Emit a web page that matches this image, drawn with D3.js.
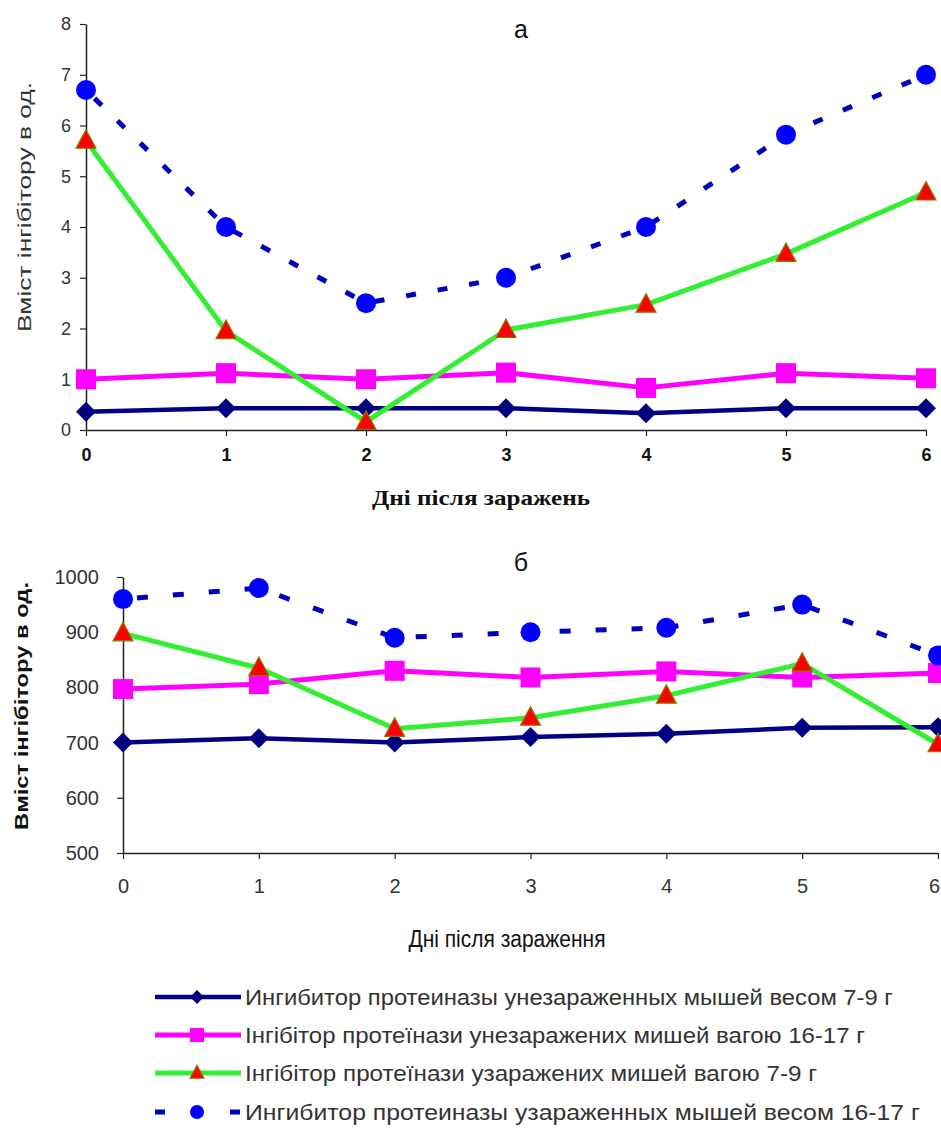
<!DOCTYPE html>
<html>
<head>
<meta charset="utf-8">
<script src="https://cdn.jsdelivr.net/npm/d3@7"></script>
<style>
  body { margin: 0; background: #fff; }
  svg { display: block; }
</style>
</head>
<body>
<div id="chart"></div>
<script>
// days after infection
const days = [0, 1, 2, 3, 4, 5, 6];

// chart "а"
const aUninf79 = [0.36, 0.43, 0.43, 0.43, 0.33, 0.43, 0.43];
const aUninf1617 = [1.0, 1.12, 1.0, 1.13, 0.83, 1.12, 1.02];
const aInf79 = [5.7, 1.95, 0.16, 1.97, 2.47, 3.47, 4.68];
const aInf1617 = [6.7, 4.0, 2.5, 3.0, 4.0, 5.82, 7.0];
const aTicksY = [0, 1, 2, 3, 4, 5, 6, 7, 8];

// chart "б"
const bUninf79 = [700, 708, 700, 710, 716, 727, 728];
const bUninf1617 = [797, 806, 830, 818, 829, 818, 826];
const bInf79 = [898, 835, 725, 745, 785, 843, 697];
const bInf1617 = [960, 980, 890, 900, 908, 950, 858];
const bTicksY = [500, 600, 700, 800, 900, 1000];

const legendLabels = [
  "Ингибитор протеиназы унезараженных мышей весом  7-9 г",
  "Інгібітор протеїнази унезаражених мишей вагою 16-17 г",
  "Інгібітор протеїнази узаражених мишей вагою 7-9 г",
  "Ингибитор протеиназы узараженных мышей весом  16-17 г"
];

const styles = [
  { color: "#000080", width: 4.5, marker: "diamond" },
  { color: "#ff00ff", width: 5, marker: "square" },
  { color: "#33ee33", width: 5, marker: "triangle" },
  { color: "#0000bb", width: 5, marker: "circle", dashed: true }
];

const SANS = "'Liberation Sans', Arial, sans-serif";
const SERIF = "'Liberation Serif', 'Times New Roman', serif";

const width = 941, height = 1131;
const svg = d3.select("#chart").append("svg")
  .attr("width", width)
  .attr("height", height)
  .style("font-family", SANS);

function drawMarker(g, type, x, y, s) {
  if (type === "diamond") {
    g.append("path")
      .attr("d", `M${x},${y - s}L${x + s},${y}L${x},${y + s}L${x - s},${y}Z`)
      .attr("fill", "#000080");
  } else if (type === "square") {
    g.append("rect")
      .attr("x", x - s).attr("y", y - s)
      .attr("width", 2 * s).attr("height", 2 * s)
      .attr("fill", "#ff00ff");
  } else if (type === "triangle") {
    g.append("path")
      .attr("d", `M${x},${y - s * 1.1}L${x + s},${y + s * 0.75}L${x - s},${y + s * 0.75}Z`)
      .attr("fill", "#ff0000")
      .attr("stroke", "#8a7a00")
      .attr("stroke-width", 1.2);
  } else {
    g.append("circle")
      .attr("cx", x).attr("cy", y).attr("r", s)
      .attr("fill", "#0000ff");
  }
}

function drawPanel(opt) {
  const x = d3.scaleLinear().domain([0, 6]).range(opt.xRange);
  const y = d3.scaleLinear().domain(opt.yDomain).range(opt.yRange);
  const g = svg.append("g");

  // axes
  const xAxis = g.append("g")
    .attr("transform", `translate(0,${opt.yRange[0]})`)
    .call(d3.axisBottom(x).tickValues(days).tickFormat(d3.format("d"))
      .tickSize(6).tickSizeOuter(0).tickPadding(opt.xPad));
  xAxis.select(".domain").attr("stroke", "#222").attr("stroke-width", 1.5);
  xAxis.selectAll(".tick line").attr("stroke", "#222").attr("stroke-width", 1.2);
  xAxis.selectAll(".tick text")
    .style("font-family", SANS)
    .style("font-size", opt.xFont + "px")
    .style("font-weight", opt.xBold ? "bold" : "normal")
    .attr("fill", opt.xBold ? "#111" : "#333")
    .attr("dx", d => d === 6 ? opt.lastDx : 0);

  const yAxis = g.append("g")
    .attr("transform", `translate(${opt.xRange[0]},0)`)
    .call(d3.axisLeft(y).tickValues(opt.ticksY).tickFormat(d3.format("d"))
      .tickSize(6).tickSizeOuter(0).tickPadding(opt.yPad));
  yAxis.select(".domain").attr("stroke", "#222").attr("stroke-width", 1.5);
  yAxis.selectAll(".tick line").attr("stroke", "#222").attr("stroke-width", 1.2);
  yAxis.selectAll(".tick text")
    .style("font-family", SANS)
    .style("font-size", opt.yFont + "px")
    .attr("fill", "#333");

  // series
  opt.series.forEach((vals, i) => {
    const st = styles[i];
    const line = d3.line().x((d, j) => x(days[j])).y(d => y(d));
    const p = g.append("path")
      .datum(vals)
      .attr("d", line)
      .attr("fill", "none")
      .attr("stroke", st.color)
      .attr("stroke-width", st.width)
      .attr("stroke-linejoin", "round");
    if (st.dashed) p.attr("stroke-dasharray", opt.dash).attr("stroke-dashoffset", opt.dashOffset);
  });
  opt.series.forEach((vals, i) => {
    const st = styles[i];
    vals.forEach((v, j) => drawMarker(g, st.marker, x(days[j]), y(v), 10));
  });

  // titles
  g.append("text")
    .attr("x", opt.titleX).attr("y", opt.titleY)
    .attr("text-anchor", "middle")
    .style("font-size", "25px")
    .attr("fill", "#111")
    .text(opt.title);

  g.append("text")
    .attr("transform", `translate(${opt.yLabelX},${opt.yLabelY}) rotate(-90)`)
    .attr("text-anchor", "middle")
    .style("font-size", opt.yLabelFont + "px")
    .style("font-weight", opt.yLabelBold ? "bold" : "normal")
    .attr("fill", opt.yLabelBold ? "#111" : "#333")
    .attr("textLength", opt.yLabelLen)
    .attr("lengthAdjust", "spacingAndGlyphs")
    .text("Вміст інгібітору в од.");

  g.append("text")
    .attr("x", opt.xLabelX).attr("y", opt.xLabelY)
    .attr("text-anchor", "middle")
    .style("font-size", opt.xLabelFont + "px")
    .style("font-weight", opt.xLabelBold ? "bold" : "normal")
    .style("font-family", opt.xLabelFamily)
    .attr("fill", "#111")
    .attr("textLength", opt.xLabelLen)
    .attr("lengthAdjust", "spacingAndGlyphs")
    .text(opt.xLabel);
}

drawPanel({
  xRange: [86, 926], yRange: [430, 24], yDomain: [0, 8], ticksY: aTicksY,
  series: [aUninf79, aUninf1617, aInf79, aInf1617],
  xFont: 18, xBold: true, xPad: 12, yFont: 18, yPad: 9, lastDx: 0,
  dash: "10 22", dashOffset: -12,
  title: "а", titleX: 521, titleY: 38,
  yLabelX: 31, yLabelY: 207, yLabelFont: 18, yLabelBold: false, yLabelLen: 250,
  xLabel: "Дні після заражень", xLabelX: 481, xLabelY: 505, xLabelFont: 21,
  xLabelBold: true, xLabelFamily: SERIF, xLabelLen: 218
});

drawPanel({
  xRange: [123, 938], yRange: [853, 577], yDomain: [500, 1000], ticksY: bTicksY,
  series: [bUninf79, bUninf1617, bInf79, bInf1617],
  xFont: 20, xBold: false, xPad: 20, yFont: 20, yPad: 18, lastDx: -4,
  dash: "11 25", dashOffset: -14,
  title: "б", titleX: 521, titleY: 571,
  yLabelX: 28, yLabelY: 706, yLabelFont: 18, yLabelBold: true, yLabelLen: 248,
  xLabel: "Дні після зараження", xLabelX: 507, xLabelY: 947, xLabelFont: 23,
  xLabelBold: false, xLabelFamily: SANS, xLabelLen: 197
});

// legend
const legendRows = [997, 1035, 1073, 1112];
const legendLens = [648, 620, 572, 675];
const legend = svg.append("g");
legendLabels.forEach((label, i) => {
  const st = styles[i];
  const yy = legendRows[i];
  const l = legend.append("line")
    .attr("x1", 155).attr("x2", 241)
    .attr("y1", yy).attr("y2", yy)
    .attr("stroke", st.color)
    .attr("stroke-width", st.width);
  if (st.dashed) l.attr("stroke-dasharray", "10 65");
  drawMarker(legend, st.marker, 197, yy, 7);
  legend.append("text")
    .attr("x", 245).attr("y", yy + 8)
    .style("font-size", "22px")
    .attr("fill", "#333")
    .attr("textLength", legendLens[i])
    .attr("lengthAdjust", "spacingAndGlyphs")
    .text(label);
});
</script>
</body>
</html>
